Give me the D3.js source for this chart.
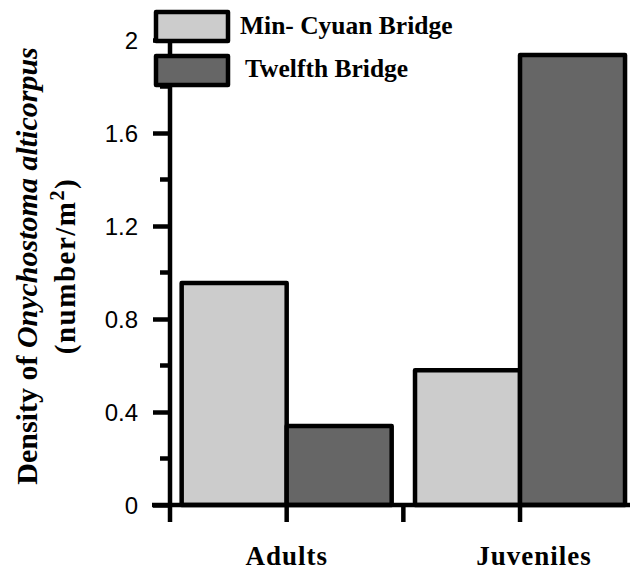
<!DOCTYPE html>
<html>
<head>
<meta charset="utf-8">
<script src="https://cdn.jsdelivr.net/npm/d3@7/dist/d3.min.js"></script>
<style>
  html, body { margin: 0; padding: 0; background: #fff; }
  svg { display: block; }
</style>
</head>
<body>
<script>
// Density of Onychostoma alticorpus at two sites, by life stage
const categories = ["Adults", "Juveniles"];
const seriesNames = ["Min- Cyuan Bridge", "Twelfth Bridge"];
const minCyuan = [0.955, 0.58];
const twelfth = [0.34, 1.935];
const yTickValues = [0, 0.4, 0.8, 1.2, 1.6, 2];
const yTickLabels = ["0", "0.4", "0.8", "1.2", "1.6", "2"];
const yMinorValues = [0.2, 0.6, 1.0, 1.4, 1.8];
const colors = ["#cccccc", "#666666"];

const W = 630, H = 572;
const svg = d3.select("body").append("svg").attr("width", W).attr("height", H);

// x runs in half-group slots: each category occupies two slots, centred on odd slots
const x = d3.scaleLinear().domain([0, 4]).range([170, 636.7]);
const y = d3.scaleLinear().domain([0, 2]).range([505, 40]);
const barW = 0.9;

const series = [minCyuan, twelfth];
const bars = [];
categories.forEach((c, i) => {
  const centre = 2 * i + 1;
  series.forEach((vals, s) => {
    bars.push({ cat: c, s, v: vals[i], x0: s === 0 ? centre - barW : centre, x1: s === 0 ? centre : centre + barW });
  });
});

svg.append("g").selectAll("rect").data(bars).join("rect")
  .attr("x", d => x(d.x0))
  .attr("y", d => y(d.v))
  .attr("width", d => x(d.x1) - x(d.x0))
  .attr("height", d => y(0) - y(d.v))
  .attr("fill", d => colors[d.s])
  .attr("stroke", "#000")
  .attr("stroke-width", 4.5)
  .attr("stroke-linejoin", "round");

// y axis
const yAxis = d3.axisLeft(y).tickValues(yTickValues).tickFormat((d, i) => yTickLabels[i]).tickSize(17).tickPadding(15);
const gy = svg.append("g").attr("transform", `translate(${x(0)},0)`).call(yAxis);
gy.select(".domain").remove();
gy.selectAll(".tick line").attr("stroke", "#000").attr("stroke-width", 4.5);
gy.selectAll(".tick text").attr("font-family", "Liberation Sans, Arial, sans-serif").attr("font-size", 24).attr("fill", "#000").attr("dy", "0.36em");
const gyMinor = svg.append("g");
gyMinor.selectAll("line").data(yMinorValues).join("line")
  .attr("x1", x(0) - 10).attr("x2", x(0))
  .attr("y1", d => y(d)).attr("y2", d => y(d))
  .attr("stroke", "#000").attr("stroke-width", 4.5);
svg.append("line")
  .attr("x1", x(0)).attr("x2", x(0))
  .attr("y1", y(2) - 2).attr("y2", y(0) + 17)
  .attr("stroke", "#000").attr("stroke-width", 4.5);

// x axis
svg.append("line")
  .attr("x1", 152).attr("x2", W)
  .attr("y1", y(0)).attr("y2", y(0))
  .attr("stroke", "#000").attr("stroke-width", 4.5);
svg.append("g").selectAll("line").data([1, 2, 3]).join("line")
  .attr("x1", d => x(d)).attr("x2", d => x(d))
  .attr("y1", y(0)).attr("y2", y(0) + 17)
  .attr("stroke", "#000").attr("stroke-width", 4.5);

const labelShift = [0, 14];
svg.append("g").selectAll("text").data(categories).join("text")
  .attr("x", (d, i) => x(2 * i + 1) + labelShift[i])
  .attr("y", 565)
  .attr("text-anchor", "middle")
  .attr("font-family", "Liberation Serif, Times New Roman, serif")
  .attr("font-weight", "bold")
  .attr("font-size", 27)
  .attr("letter-spacing", 1)
  .text(d => d);

// legend
const legend = svg.append("g");
const legendRows = [{ y: 12, ty: 34 }, { y: 56, ty: 77 }];
seriesNames.forEach((name, i) => {
  legend.append("rect")
    .attr("x", 156).attr("y", legendRows[i].y)
    .attr("width", 72).attr("height", 29)
    .attr("fill", colors[i]).attr("stroke", "#000").attr("stroke-width", 4.5)
    .attr("stroke-linejoin", "round");
  legend.append("text")
    .attr("x", i === 0 ? 240 : 245).attr("y", legendRows[i].ty)
    .attr("font-family", "Liberation Serif, Times New Roman, serif")
    .attr("font-weight", "bold")
    .attr("font-size", 25.5)
    .text(name);
});

// y title, two lines
const title = svg.append("g").attr("transform", "translate(0,266) rotate(-90)");
const t1 = title.append("text").attr("x", 0).attr("y", 37).attr("text-anchor", "middle")
  .attr("font-family", "Liberation Serif, Times New Roman, serif").attr("font-weight", "bold").attr("font-size", 30);
t1.append("tspan").text("Density of ");
t1.append("tspan").attr("font-style", "italic").text("Onychostoma alticorpus");
const t2 = title.append("text").attr("x", 0).attr("y", 75).attr("text-anchor", "middle")
  .attr("font-family", "Liberation Serif, Times New Roman, serif").attr("font-weight", "bold").attr("font-size", 29)
  .attr("letter-spacing", 1.5);
t2.append("tspan").text("(number/m");
t2.append("tspan").attr("dy", -11).attr("font-size", 20).text("2");
t2.append("tspan").attr("dy", 11).text(")");
</script>
</body>
</html>
